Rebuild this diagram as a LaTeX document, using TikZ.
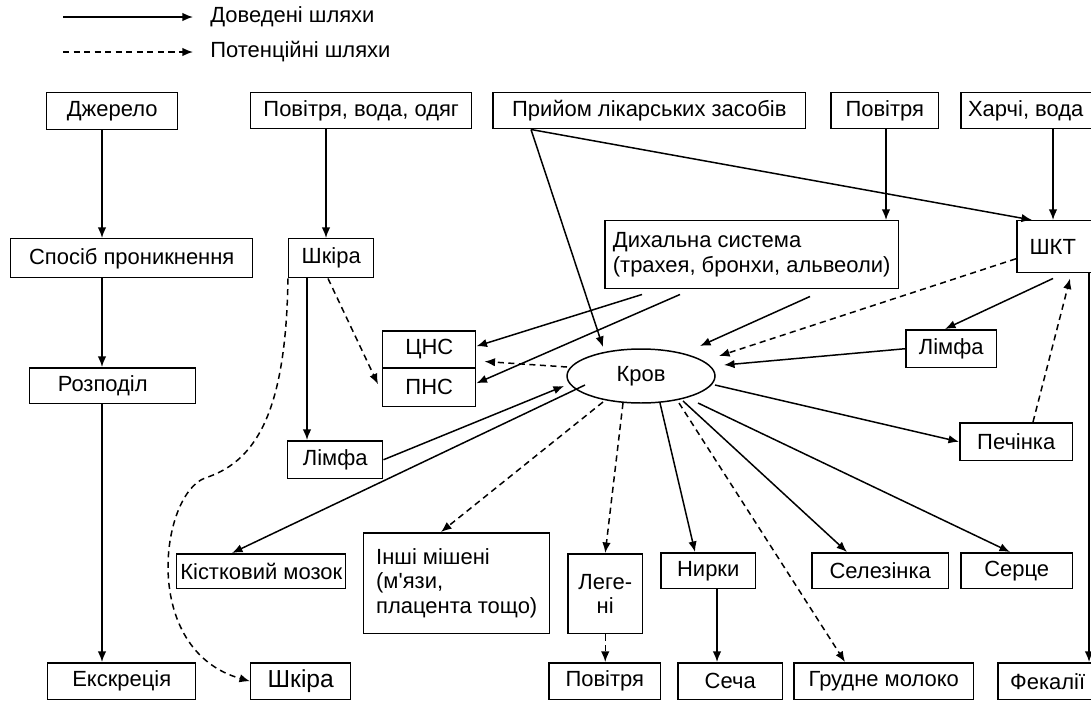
\documentclass[tikz,border=0pt]{standalone}
\usepackage{fontspec}
\setmainfont{Liberation Sans}
\usetikzlibrary{arrows.meta, calc, shapes.geometric}

\begin{document}
\begin{tikzpicture}[x = 0.02cm, y = -0.02cm,
  font = \fontsize{12.5}{14}\selectfont,
  box/.style = {draw, line width = 0.85pt, anchor = north west, inner sep = 0pt},
  pth/.style = {line width = 0.85pt, -{Latex[length = 6pt, width = 4.8pt]}},
  pot/.style = {pth, dash pattern = on 3.5pt off 2.5pt}]
\useasboundingbox (0,0) rectangle (1091,700);

\coordinate (lgA) at (63,17);
\coordinate (lgB) at (63,52);
\node[anchor = west, inner xsep = 0.34cm] (dovtxt) at (193,17) {Доведені шляхи};
\node[anchor = west, inner xsep = 0.34cm] (pottxt) at (193,52) {Потенційні шляхи};
\draw[pth] (lgA) -- (dovtxt.west);
\draw[pot] (lgB) -- (pottxt.west);

\node[box, minimum width = 2.62cm, minimum height = 0.74cm] (dzherelo) at (46,92) {Джерело};
\node[box, minimum width = 4.42cm, minimum height = 0.72cm] (povodyag) at (250,92) {Повітря, вода, одяг};
\node[box, minimum width = 6.26cm, minimum height = 0.72cm] (prijom) at (492,92) {Прийом лікарських засобів};
\node[box, minimum width = 2.16cm, minimum height = 0.72cm] (povitrya) at (830,92) {Повітря};
\node[box, minimum width = 2.9cm, minimum height = 0.72cm] (kharchi) at (960,92) {\hspace*{-0.3cm}Харчі, вода};
\node[box, minimum width = 4.84cm, minimum height = 0.78cm] (sposib) at (10,238) {Спосіб проникнення};
\node[box, minimum width = 1.7cm, minimum height = 0.78cm] (shkira) at (288,238) {Шкіра};
\node[box, minimum width = 5.88cm, minimum height = 1.36cm, align = left] (dykh) at (604,220) {Дихальна система\\(трахея, бронхи, альвеоли)};
\node[box, minimum width = 1.8cm, minimum height = 1.04cm] (shkt) at (1016,220) {\hspace*{-0.36cm}ШКТ};
\node[box, minimum width = 3.32cm, minimum height = 0.72cm] (rozpodil) at (29,367) {\hspace*{-0.4cm}Розподіл};
\node[box, minimum width = 1.86cm, minimum height = 0.74cm] (cns) at (382,330) {ЦНС};
\node[box, minimum width = 1.86cm, minimum height = 0.78cm] (pns) at (382,367) {ПНС};
\node[draw, ellipse, line width = 0.85pt, minimum width = 2.96cm, minimum height = 1.08cm, inner sep = 0pt] (krov) at (641,376) {Кров};
\node[box, minimum width = 1.9cm, minimum height = 0.76cm] (limfa) at (287,440) {Лімфа};
\node[box, minimum width = 1.82cm, minimum height = 0.76cm] (limfaR) at (905,329) {Лімфа};
\node[box, minimum width = 2.26cm, minimum height = 0.76cm] (pechinka) at (959,422) {Печінка};
\node[box, minimum width = 3.38cm, minimum height = 0.7cm] (kistk) at (176,553) {Кістковий мозок};
\node[box, minimum width = 3.72cm, minimum height = 2.02cm, align = left] (inshi) at (363,532) {Інші мішені\\(м\textquotesingle язи,\\плацента тощо)};
\node[box, minimum width = 1.5cm, minimum height = 1.6cm, align = center] (legeni) at (567,553) {Леге-\\ні};
\node[box, minimum width = 1.9cm, minimum height = 0.72cm] (nyrky) at (660,552) {Нирки};
\node[box, minimum width = 2.74cm, minimum height = 0.72cm] (selez) at (811,552) {Селезінка};
\node[box, minimum width = 2.24cm, minimum height = 0.72cm] (serce) at (960,552) {Серце};
\node[box, minimum width = 2.96cm, minimum height = 0.74cm] (ekskr) at (47,662) {Екскреція};
\node[box, minimum width = 2cm, minimum height = 0.74cm, font = \fontsize{14}{16}\selectfont] (shkiraB) at (250,662) {Шкіра};
\node[box, minimum width = 2.24cm, minimum height = 0.74cm] (povitryaB) at (548,662) {Повітря};
\node[box, minimum width = 2.1cm, minimum height = 0.74cm] (secha) at (677,662) {Сеча};
\node[box, minimum width = 3.6cm, minimum height = 0.74cm] (grudne) at (793,662) {Грудне молоко};
\node[box, minimum width = 2cm, minimum height = 0.74cm] (fekalii) at (997,662) {Фекалії};

\coordinate (colA) at (102,0);
\coordinate (colB) at (326,0);
\coordinate (colC) at (307,0);
\coordinate (colD) at (886,0);
\coordinate (colE) at (1053,0);
\coordinate (colF) at (717,0);
\coordinate (colG) at (1089,0);

\draw[pth] (dzherelo.south -| colA) -- (sposib.north -| colA);
\draw[pth] (sposib.south -| colA) -- (rozpodil.north -| colA);
\draw[pth] (rozpodil.south -| colA) -- (ekskr.north -| colA);
\draw[pth] (povodyag.south -| colB) -- (shkira.north -| colB);
\draw[pth] (shkira.south -| colC) -- (limfa.north -| colC);
\draw[pot] ($(shkira.south west)+(40,0)$) -- ($(pns.west)+(-4,-3)$);
\draw[pot] (shkira.south west) .. controls (286,400) and (262,460) .. (205,478)
  .. controls (160,495) and (140,650) .. (shkiraB.west);
\draw[pth] ($(prijom.south west)+(39,0)$) -- ($(krov.center)+(-38,-29)$);
\draw[pth] ($(prijom.south west)+(39,0)$) -- ($(shkt.north west)+(16,0)$);
\draw[pth] (povitrya.south -| colD) -- (dykh.north -| colD);
\draw[pth] (kharchi.south -| colE) -- (shkt.north -| colE);
\draw[pth] ($(dykh.south west)+(38,5)$) -- ($(cns.east)+(0,-3)$);
\draw[pth] ($(dykh.south west)+(76,5)$) -- ($(pns.east)+(0,-4)$);
\draw[pth] ($(dykh.south west)+(206,7)$) -- ($(krov.center)+(59,-30)$);
\draw[pot] ($(shkt.west)+(0,12)$) -- ($(krov.center)+(78,-20)$);
\draw[pth] ($(shkt.south west)+(37,5)$) -- ($(limfaR.north west)+(40,0)$);
\draw[pth] (limfaR.west) -- ($(krov.center)+(83,-11)$);
\draw[pot] ($(pechinka.north west)+(74,0)$) -- ($(shkt.south west)+(54,5)$);
\draw[pth] (shkt.south -| colG) -- (fekalii.north -| colG);
\draw[pot] ($(krov.center)+(-74,-9)$) -- ($(cns.south east)+(8,-7)$);
\draw[pth] (limfa.east) -- ($(krov.center)+(-77,10)$);
\draw[pth] ($(krov.center)+(-56,9)$) -- ($(kistk.north west)+(56,0)$);
\draw[pot] ($(krov.center)+(-38,26)$) -- ($(inshi.north west)+(78,0)$);
\draw[pot] ($(krov.center)+(-18,27)$) -- (legeni.north);
\draw[pot] (legeni.south) -- (legeni.south |- povitryaB.north);
\draw[pth] ($(krov.center)+(19,27)$) -- ($(nyrky.north west)+(35,0)$);
\draw[pth] (nyrky.south -| colF) -- (secha.north -| colF);
\draw[pot] ($(krov.center)+(38,27)$) -- ($(grudne.north west)+(52,0)$);
\draw[pth] ($(krov.center)+(42,25)$) -- ($(selez.north west)+(36,0)$);
\draw[pth] ($(krov.center)+(57,27)$) -- ($(serce.north west)+(50,0)$);
\draw[pth] ($(krov.center)+(74,9)$) -- (pechinka.west);
\end{tikzpicture}
\end{document}
